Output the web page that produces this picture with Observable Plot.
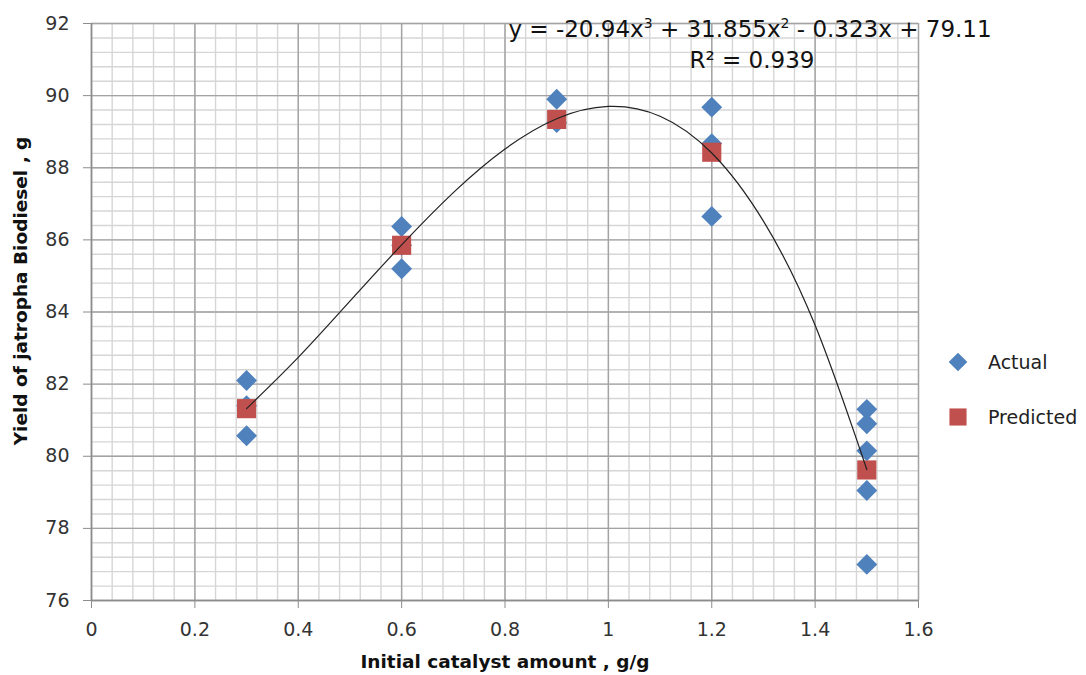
<!DOCTYPE html>
<html>
<head>
<meta charset="utf-8">
<script src="https://cdn.jsdelivr.net/npm/d3@7"></script>
<script src="https://cdn.jsdelivr.net/npm/@observablehq/plot@0.6"></script>
<style>
  html, body { margin: 0; padding: 0; background: #fff; }
  #chart { position: relative; width: 1086px; height: 675px; }
</style>
</head>
<body>
<div id="chart"></div>
<script>
// ---- data ----
const actualX = [0.3, 0.3, 0.3, 0.6, 0.6, 0.6, 0.9, 0.9, 1.2, 1.2, 1.2, 1.5, 1.5, 1.5, 1.5, 1.5];
const actualY = [82.1, 81.4, 80.57, 86.37, 85.85, 85.2, 89.9, 89.25, 89.68, 88.67, 86.65, 81.3, 80.9, 80.15, 79.05, 77.0];
const predictedX = [0.3, 0.6, 0.9, 1.2, 1.5];
const predictedY = [81.32, 85.85, 89.34, 88.43, 79.62];
// trendline (poly order 3)
const trendX = [0.3, 0.4, 0.5, 0.6, 0.7, 0.8, 0.9, 1.0, 1.1, 1.2, 1.3, 1.4, 1.5];
const trendY = [81.32, 82.74, 84.30, 85.86, 87.31, 88.52, 89.36, 89.70, 89.43, 88.41, 86.52, 83.63, 79.63];
const xTicks = [0, 0.2, 0.4, 0.6, 0.8, 1, 1.2, 1.4, 1.6];
const yTicks = [76, 78, 80, 82, 84, 86, 88, 90, 92];
const xMinorStep = 0.04;
const yMinorStep = 0.4;
const seriesNames = ["Actual", "Predicted"];
const equationText = ["y = -20.94x", "3", " + 31.855x", "2", " - 0.323x + 79.11"];
const r2Text = "R² = 0.939";
const xTitle = "Initial catalyst amount , g/g";
const yTitle = "Yield of jatropha Biodiesel , g";

const actual = actualX.map((x, i) => ({x, y: actualY[i]}));
const predicted = predictedX.map((x, i) => ({x, y: predictedY[i]}));
const trend = trendX.map((x, i) => ({x, y: trendY[i]}));
const xMinor = d3.range(0, 41).map(i => +(i * xMinorStep).toFixed(4));
const yMinor = d3.range(0, 41).map(i => +(76 + i * yMinorStep).toFixed(4));

const FONT = "'DejaVu Sans', sans-serif";
const blue = "#4f81bd", red = "#c0504d";
const rActual = 9.4, rPred = 10.8;

const svg = Plot.plot({
  width: 1086,
  height: 675,
  marginLeft: 91,
  marginRight: 168,
  marginTop: 23,
  marginBottom: 75,
  style: {fontFamily: FONT, background: "#fff"},
  x: {domain: [0, 1.6]},
  y: {domain: [76, 92]},
  marks: [
    Plot.ruleX(xMinor, {stroke: "#d6d6d6", strokeWidth: 1.4}),
    Plot.ruleY(yMinor, {stroke: "#d6d6d6", strokeWidth: 1.4}),
    Plot.ruleX(xTicks, {stroke: "#a3a3a3", strokeWidth: 1.4}),
    Plot.ruleY(yTicks, {stroke: "#a3a3a3", strokeWidth: 1.4}),
    Plot.ruleX([0], {stroke: "#8c8c8c", strokeWidth: 1.5}),
    Plot.ruleY([76], {stroke: "#8c8c8c", strokeWidth: 1.5}),
    Plot.axisY({ticks: yTicks, tickSize: 8, tickPadding: 14, fontSize: 19, stroke: "#8c8c8c", fill: "#333", tickFormat: d => String(d), label: null}),
    Plot.axisX({ticks: xTicks, tickSize: 8, tickPadding: 14, fontSize: 19, stroke: "#8c8c8c", fill: "#333", tickFormat: d => String(d), label: null}),
    Plot.dot(actual, {x: "x", y: "y", symbol: "diamond2", r: rActual, fill: blue, stroke: "none"}),
    Plot.dot(predicted, {x: "x", y: "y", symbol: "square", r: rPred, fill: red, stroke: "none"}),
    Plot.line(trend, {x: "x", y: "y", curve: "natural", stroke: "#222", strokeWidth: 1.2})
  ]
});
document.getElementById("chart").appendChild(svg);

const s = d3.select(svg);
// equation
const eq = s.append("text").attr("x", 750).attr("y", 37).attr("text-anchor", "middle")
  .style("font-family", FONT).style("font-size", "23px").attr("fill", "#111");
equationText.forEach((t, i) => {
  const sp = eq.append("tspan").text(t);
  if (i === 1 || i === 3) sp.attr("dy", -9).style("font-size", "14px");
  else if (i > 1) sp.attr("dy", 9);
});
s.append("text").attr("x", 752).attr("y", 68).attr("text-anchor", "middle")
  .style("font-family", FONT).style("font-size", "23px").attr("fill", "#111").text(r2Text);

// axis titles
s.append("text").attr("x", 505).attr("y", 668).attr("text-anchor", "middle")
  .style("font-family", FONT).style("font-size", "18.5px").style("font-weight", "bold").attr("fill", "#111").text(xTitle);
s.append("text").attr("transform", "translate(27,291) rotate(-90)").attr("text-anchor", "middle")
  .style("font-family", FONT).style("font-size", "18.5px").style("font-weight", "bold").attr("fill", "#111").text(yTitle);

// legend
const legend = [
  {name: seriesNames[0], sym: d3.symbolDiamond2, size: Math.PI * rActual * rActual * 0.8, color: blue, y: 362},
  {name: seriesNames[1], sym: d3.symbolSquare, size: Math.PI * rPred * rPred * 0.8, color: red, y: 417}
];
legend.forEach(l => {
  s.append("path").attr("d", d3.symbol(l.sym, l.size)()).attr("transform", `translate(958,${l.y})`).attr("fill", l.color);
  s.append("text").attr("x", 988).attr("y", l.y + 7).attr("text-anchor", "start")
    .style("font-family", FONT).style("font-size", "19px").attr("fill", "#222").text(l.name);
});
</script>
</body>
</html>
